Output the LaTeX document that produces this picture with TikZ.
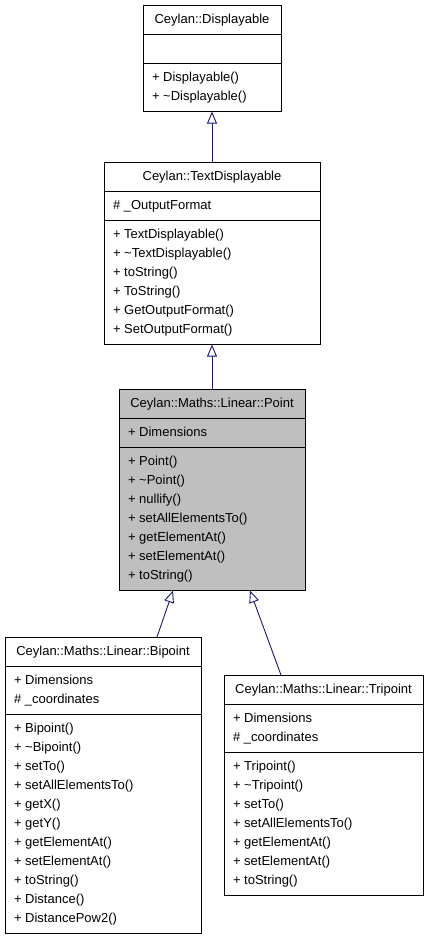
\documentclass[tikz,border=0pt]{standalone}
\usepackage{fontspec}
\setmainfont{Liberation Sans}
\usetikzlibrary{shapes.multipart,arrows.meta}
\definecolor{edgeblue}{HTML}{191970}
\definecolor{currentgrey}{HTML}{BFBFBF}
\newcommand{\tl}{\textasciitilde}

\begin{document}
\begin{tikzpicture}[x=1pt,y=-1pt,
	classbox/.style={draw=black, line width=0.9pt, rectangle split, rectangle split parts=3,
		rectangle split part align={center,left,left}, align=left,
		inner xsep=9pt, inner ysep=4.5pt, anchor=north,
		font=\fontsize{13pt}{19pt}\selectfont},
	inherit/.style={draw=edgeblue, line width=0.9pt,
		-{Triangle[open,length=12pt,width=10pt]}}]
	\useasboundingbox (0,0) rectangle (427,936);
	\node[classbox, minimum width=138pt] (disp) at (212,5)
		{\strut Ceylan::Displayable
		\nodepart{two}\strut
		\nodepart{three}\strut+ Displayable()\\\strut+ \tl Displayable()};
	\node[classbox, minimum width=216pt] (textdisp) at (212,162)
		{\strut Ceylan::TextDisplayable
		\nodepart{two}\strut\# \_OutputFormat
		\nodepart{three}\strut+ TextDisplayable()\\\strut+ \tl TextDisplayable()\\\strut+ toString()\\
		\strut+ ToString()\\\strut+ GetOutputFormat()\\\strut+ SetOutputFormat()};
	\node[classbox, minimum width=186pt, fill=currentgrey] (point) at (212,389)
		{\strut Ceylan::Maths::Linear::Point
		\nodepart{two}\strut+ Dimensions
		\nodepart{three}\strut+ Point()\\\strut+ \tl Point()\\\strut+ nullify()\\
		\strut+ setAllElementsTo()\\\strut+ getElementAt()\\\strut+ setElementAt()\\\strut+ toString()};
	\node[classbox, minimum width=196pt] (bipoint) at (103,637)
		{\strut Ceylan::Maths::Linear::Bipoint
		\nodepart{two}\strut+ Dimensions\\\strut\# \_coordinates
		\nodepart{three}\strut+ Bipoint()\\\strut+ \tl Bipoint()\\\strut+ setTo()\\
		\strut+ setAllElementsTo()\\\strut+ getX()\\\strut+ getY()\\\strut+ getElementAt()\\
		\strut+ setElementAt()\\\strut+ toString()\\\strut+ Distance()\\\strut+ DistancePow2()};
	\node[classbox, minimum width=199pt] (tripoint) at (323.5,675)
		{\strut Ceylan::Maths::Linear::Tripoint
		\nodepart{two}\strut+ Dimensions\\\strut\# \_coordinates
		\nodepart{three}\strut+ Tripoint()\\\strut+ \tl Tripoint()\\\strut+ setTo()\\
		\strut+ setAllElementsTo()\\\strut+ getElementAt()\\\strut+ setElementAt()\\\strut+ toString()};
	% inheritance
	\draw[inherit] (textdisp.north) -- (disp.south);
	\draw[inherit] (point.north) -- (textdisp.south);
	\draw[inherit] ([xshift=54pt]bipoint.north) -- ([xshift=-39pt]point.south);
	\draw[inherit] ([xshift=-42.5pt]tripoint.north) -- ([xshift=38pt]point.south);
\end{tikzpicture}
\end{document}
